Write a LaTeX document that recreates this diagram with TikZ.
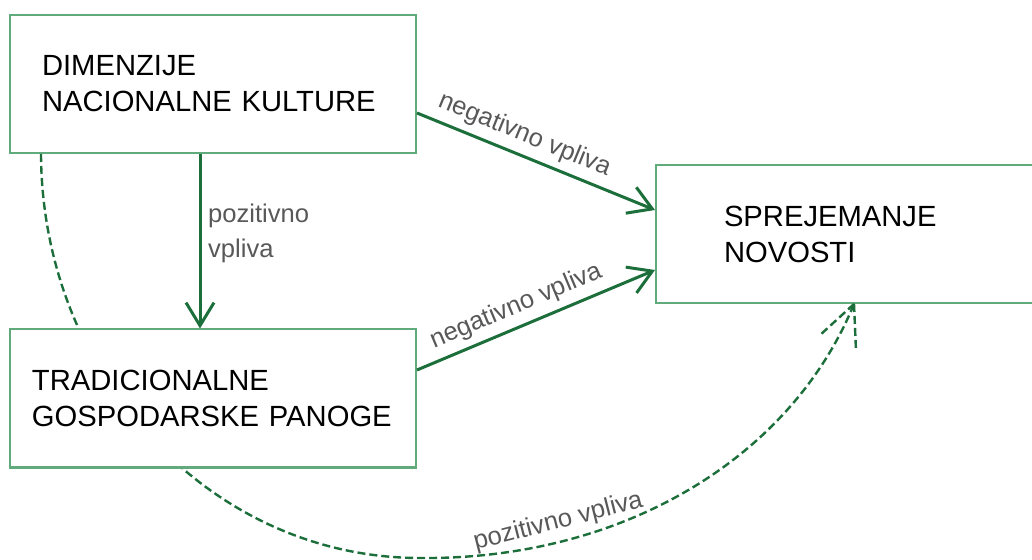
\documentclass[tikz,border=0pt]{standalone}
\usepackage{fontspec}
\setmainfont{Liberation Sans}
\usetikzlibrary{arrows.meta,backgrounds}

\definecolor{boxgreen}{RGB}{96,170,124}
\definecolor{arrowgreen}{RGB}{28,110,58}
\definecolor{labelgray}{RGB}{88,88,88}

\begin{document}
\begin{tikzpicture}[x=0.5pt, y=-0.5pt,
  box/.style={draw=boxgreen, line width=1pt, fill=white, minimum height=69pt,
    inner ysep=0pt, align=left, font=\fontsize{14.6}{18}\selectfont},
  link/.style={arrowgreen, line width=1.5pt,
    -{Straight Barb[length=11.5pt, width=14pt, line width=1.5pt]}},
  dashlink/.style={arrowgreen, line width=1.2pt, dash pattern=on 4pt off 2pt},
  vpliv/.style={labelgray, font=\fontsize{12.8}{17.5}\selectfont, align=left}]
  \useasboundingbox (0,0) rectangle (1032,560);

  % boxes
  \node[box, inner xsep=16pt, text width=171pt] (kultura) at (213,84)
    {DIMENZIJE\\NACIONALNE KULTURE};
  \node[box, inner xsep=11pt, text width=181pt] (panoge) at (213,398.5)
    {TRADICIONALNE\\GOSPODARSKE PANOGE};
  \node[box, inner xsep=34pt, text width=132pt] (novosti) at (856,234)
    {SPREJEMANJE\\NOVOSTI};

  % solid arrows
  \draw[link] ([xshift=95.5pt]kultura.south west) -- ([xshift=95.5pt]panoge.north west)
    node[vpliv, midway, right, yshift=4pt] {pozitivno\\vpliva};
  \draw[link] ([yshift=-14.5pt]kultura.east) -- ([yshift=12pt]novosti.west)
    node[vpliv, pos=0.42, sloped, above] {negativno vpliva};
  \draw[link] ([yshift=14.25pt]panoge.east) -- ([yshift=-18pt]novosti.west)
    node[vpliv, pos=0.45, sloped, above] {negativno vpliva};

  % dashed arc behind the boxes
  \coordinate (tip) at ([xshift=99.5pt]novosti.south west);
  \begin{scope}[on background layer]
    \draw[dashlink] ([xshift=16pt]kultura.south west)
      .. controls (42,377) and (211,558) .. (420,558)
      .. controls (620,560) and (790,460) .. (tip)
      node[vpliv, pos=0.25, sloped, above] {pozitivno vpliva};
  \end{scope}
  \draw[dashlink] (tip) -- ++(-35,32);
  \draw[dashlink] (tip) -- ++(2,47);
\end{tikzpicture}
\end{document}
